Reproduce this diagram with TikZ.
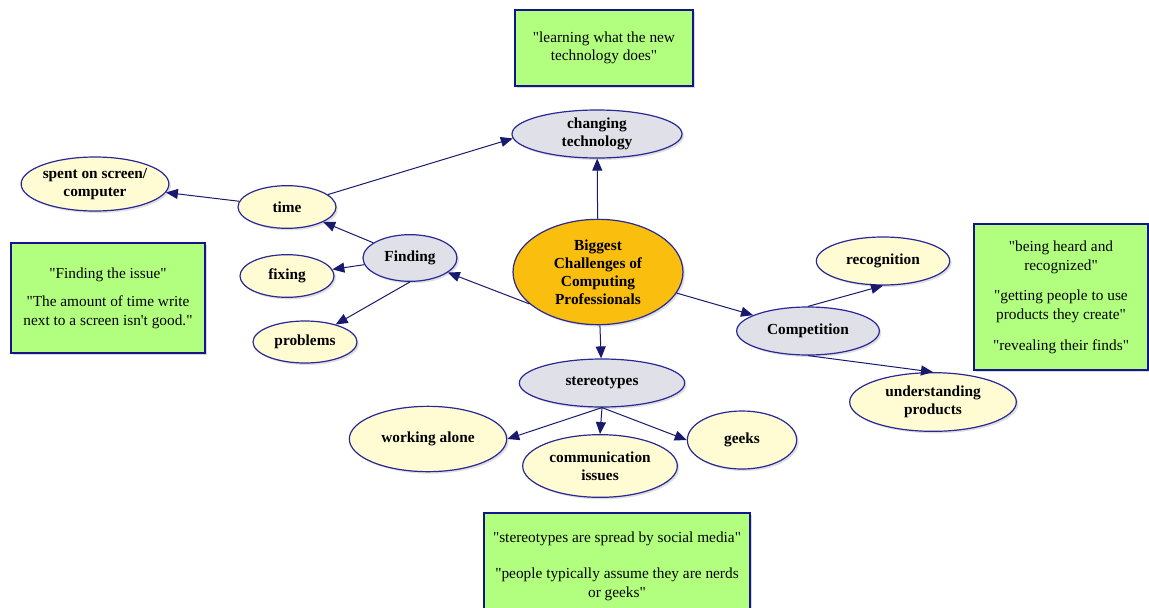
\documentclass[tikz,border=0pt]{standalone}
\usepackage{fontspec}
\setmainfont{Liberation Serif}
\usepackage{tikz}
\usetikzlibrary{arrows.meta, shapes.geometric, shadows}
\definecolor{edgeBlue}{RGB}{40, 40, 150}
\definecolor{arrowBlue}{RGB}{25, 25, 110}
\definecolor{leafFill}{RGB}{255, 251, 210}
\definecolor{hubFill}{RGB}{224, 224, 232}
\definecolor{coreFill}{RGB}{250, 190, 15}
\definecolor{noteFill}{RGB}{178, 255, 128}
\definecolor{noteEdge}{RGB}{20, 20, 140}
\newcommand{\dq}{\XeTeXglyph\XeTeXglyphindex "quotedbl"\relax}
\newcommand{\sq}{\XeTeXglyph\XeTeXglyphindex "quotesingle"\relax}

\begin{document}
\begin{tikzpicture}[x=0.75pt, y=-0.75pt,
  bubble/.style={ellipse, draw=edgeBlue, line width=0.9pt, inner sep=0pt, align=center,
    font=\fontsize{11.5}{13.5}\selectfont\bfseries,
    drop shadow={opacity=0.25, shadow xshift=1.5pt, shadow yshift=-1.5pt}},
  leaf/.style={bubble, fill=leafFill},
  hub/.style={bubble, fill=hubFill},
  core/.style={bubble, fill=coreFill},
  note/.style={rectangle, draw=noteEdge, line width=1.3pt, fill=noteFill, align=center,
    inner sep=2pt, font=\fontsize{11.5}{14}\selectfont,
    drop shadow={opacity=0.3, shadow xshift=1.5pt, shadow yshift=-1.5pt}},
  link/.style={arrowBlue, line width=0.75pt, -{Triangle[length=9pt, width=7.5pt]}}]
  \useasboundingbox (0,0) rectangle (1149,607);

  % centre and main branches
  \node[core, minimum width=127.5pt, minimum height=79pt] (cent) at (598,272)
    {Biggest\\Challenges of\\Computing\\Professionals};
  \node[hub, minimum width=127.5pt, minimum height=36pt] (chg) at (597,134) {changing\\technology};
  \node[hub, minimum width=70.5pt, minimum height=35pt] (find) at (410,258) {Finding};
  \node[hub, minimum width=107pt, minimum height=36pt] (comp) at (808,331) {Competition};
  \node[hub, minimum width=124pt, minimum height=36pt] (stereo) at (602,383) {stereotypes};

  % leaves
  \node[leaf, minimum width=105pt, minimum height=40.5pt] (spent) at (95,184) {spent on screen/\\computer};
  \node[leaf, minimum width=73.5pt, minimum height=32pt] (time) at (287,207) {time};
  \node[leaf, minimum width=70.5pt, minimum height=32pt] (fix) at (287,276) {fixing};
  \node[leaf, minimum width=78pt, minimum height=31.5pt] (prob) at (305,342) {problems};
  \node[leaf, minimum width=100pt, minimum height=36pt] (recog) at (883,261) {recognition};
  \node[leaf, minimum width=125pt, minimum height=44pt] (under) at (933,402) {understanding\\products};
  \node[leaf, minimum width=118pt, minimum height=49pt] (work) at (428,439) {working alone};
  \node[leaf, minimum width=116pt, minimum height=47pt] (comm) at (600,466) {communication\\issues};
  \node[leaf, minimum width=82pt, minimum height=43.5pt] (geeks) at (742,440) {geeks};

  % quote boxes
  \node[note, minimum width=133.5pt, minimum height=57pt] (qtech) at (604,48)
    {\dq learning what the new\\technology does\dq};
  \node[note, minimum width=145pt, minimum height=82pt] (qfind) at (108,298)
    {\dq Finding the issue\dq\\[7pt]\dq The amount of time write\\next to a screen isn\sq t good.\dq};
  \node[note, minimum width=131pt, minimum height=110pt] (qcomp) at (1061,297)
    {\dq being heard and\\recognized\dq\\[9pt]\dq getting people to use\\products they create\dq\\[9pt]\dq revealing their finds\dq};
  \node[note, anchor=north, minimum width=200pt, minimum height=80pt] (qster) at (617,512)
    {\dq stereotypes are spread by social media\dq\\[13pt]\dq people typically assume they are nerds\\or geeks\dq};

  % connectors
  \draw[link] (cent) -- (chg);
  \draw[link] (cent.205) -- (find);
  \draw[link] (cent.-15) -- (comp);
  \draw[link] (cent) -- (stereo);
  \draw[link] (time) -- (chg.183);
  \draw[link] (find) -- (time);
  \draw[link] (time) -- (spent);
  \draw[link] (find) -- (fix);
  \draw[link] (find.south) -- (prob);
  \draw[link] (comp.north) -- (recog.south);
  \draw[link] (comp.south) -- (under.north);
  \draw[link] (stereo.south) -- (work.east);
  \draw[link] (stereo.south) -- (comm.north);
  \draw[link] (stereo.south) -- (geeks.west);
\end{tikzpicture}
\end{document}
